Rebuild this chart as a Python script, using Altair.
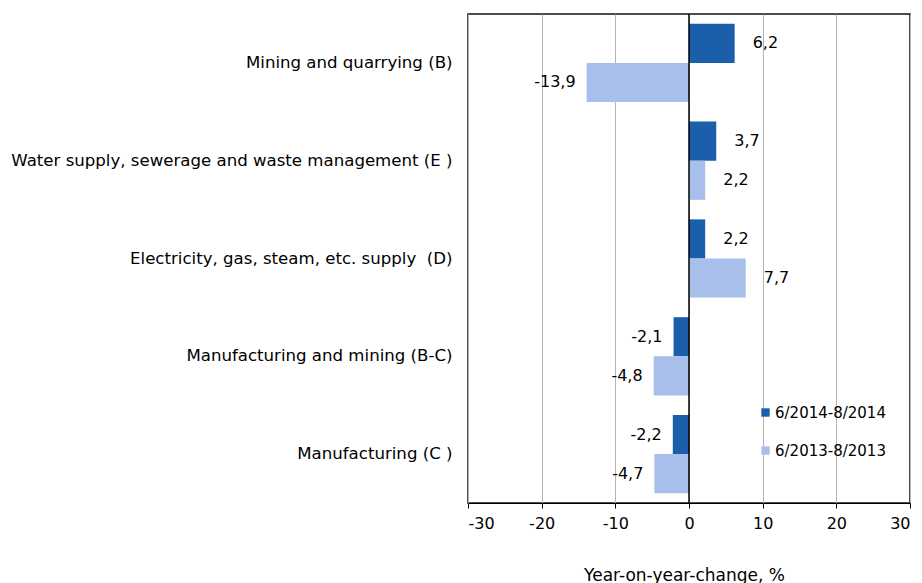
import altair as alt
import pandas as pd

categories = [
    "Mining and quarrying (B)",
    "Water supply, sewerage and waste management (E )",
    "Electricity, gas, steam, etc. supply\u00a0 (D)",
    "Manufacturing and mining (B-C)",
    "Manufacturing (C )",
]
series = ["6/2014-8/2014", "6/2013-8/2013"]
values_2014 = [6.2, 3.7, 2.2, -2.1, -2.2]
values_2013 = [-13.9, 2.2, 7.7, -4.8, -4.7]
x_ticks = [-30, -20, -10, 0, 10, 20, 30]
colors = ["#1b5fab", "#a7bfea"]

rows = []
for c, a, b in zip(categories, values_2014, values_2013):
    rows.append({"category": c, "series": series[0], "value": a})
    rows.append({"category": c, "series": series[1], "value": b})
df = pd.DataFrame(rows)

FONT = "DejaVu Sans"

y_enc = alt.Y(
    "category:N",
    sort=categories,
    scale=alt.Scale(paddingInner=0.2, paddingOuter=0.1),
    axis=alt.Axis(
        title=None, ticks=False, domain=False, labelLimit=600,
        labelPadding=16, labelFontSize=16.6, labelFont=FONT, labelColor="#000",
    ),
)
x_scale = alt.Scale(domain=[-30, 30], nice=False)

base = alt.Chart(df)

bars = base.mark_bar().encode(
    x=alt.X(
        "value:Q", scale=x_scale,
        axis=alt.Axis(
            values=x_ticks, grid=True, gridColor="#b4b4b4", gridWidth=1,
            domainColor="#000", tickColor="#000", tickSize=5,
            labelExpr="'' + datum.value",
            labelFontSize=16, labelFont=FONT, labelColor="#000", labelPadding=7,
            title="Year-on-year-change, %", titleFontSize=17, titleFont=FONT,
            titleFontWeight="normal", titleColor="#000", titlePadding=36,
            titleX=216,
        ),
    ),
    x2=alt.datum(0),
    y=y_enc,
    yOffset=alt.YOffset("series:N", sort=series),
    color=alt.Color(
        "series:N", sort=series,
        scale=alt.Scale(domain=series, range=colors),
        legend=alt.Legend(
            title=None, orient="none", legendX=290, legendY=391,
            symbolType="square", symbolSize=70, symbolStrokeWidth=0,
            labelFontSize=15, labelFont=FONT, labelColor="#000",
            labelOffset=2, rowPadding=22,
        ),
    ),
)

label_expr = "(datum.value < 0 ? '-' : '') + replace(format(abs(datum.value), '.1f'), '.', ',')"

pos_labels = base.transform_filter("datum.value >= 0").transform_calculate(
    label=label_expr
).mark_text(align="left", baseline="middle", dx=18, fontSize=16, font=FONT, color="#000").encode(
    x=alt.X("value:Q", scale=x_scale),
    y=alt.Y("category:N", sort=categories),
    yOffset=alt.YOffset("series:N", sort=series),
    text="label:N",
)

neg_labels = base.transform_filter("datum.value < 0").transform_calculate(
    label=label_expr
).mark_text(align="right", baseline="middle", dx=-11, fontSize=16, font=FONT, color="#000").encode(
    x=alt.X("value:Q", scale=x_scale),
    y=alt.Y("category:N", sort=categories),
    yOffset=alt.YOffset("series:N", sort=series),
    text="label:N",
)

zero_rule = alt.Chart(pd.DataFrame({"z": [0]})).mark_rule(color="#000", strokeWidth=1.5).encode(
    x=alt.X("z:Q", scale=x_scale)
)

chart = alt.layer(bars, zero_rule, pos_labels, neg_labels).properties(
    width=442,
    height=489,
    padding={"left": 460, "top": 6, "right": 4, "bottom": 80},
    autosize=alt.AutoSizeParams(type="none"),
).configure_view(
    stroke="#111", strokeWidth=1.5
).configure_scale(
    offsetBandPaddingInner=0, offsetBandPaddingOuter=0
)

chart.save("out.html", embed_options={"renderer": "svg", "actions": False})
